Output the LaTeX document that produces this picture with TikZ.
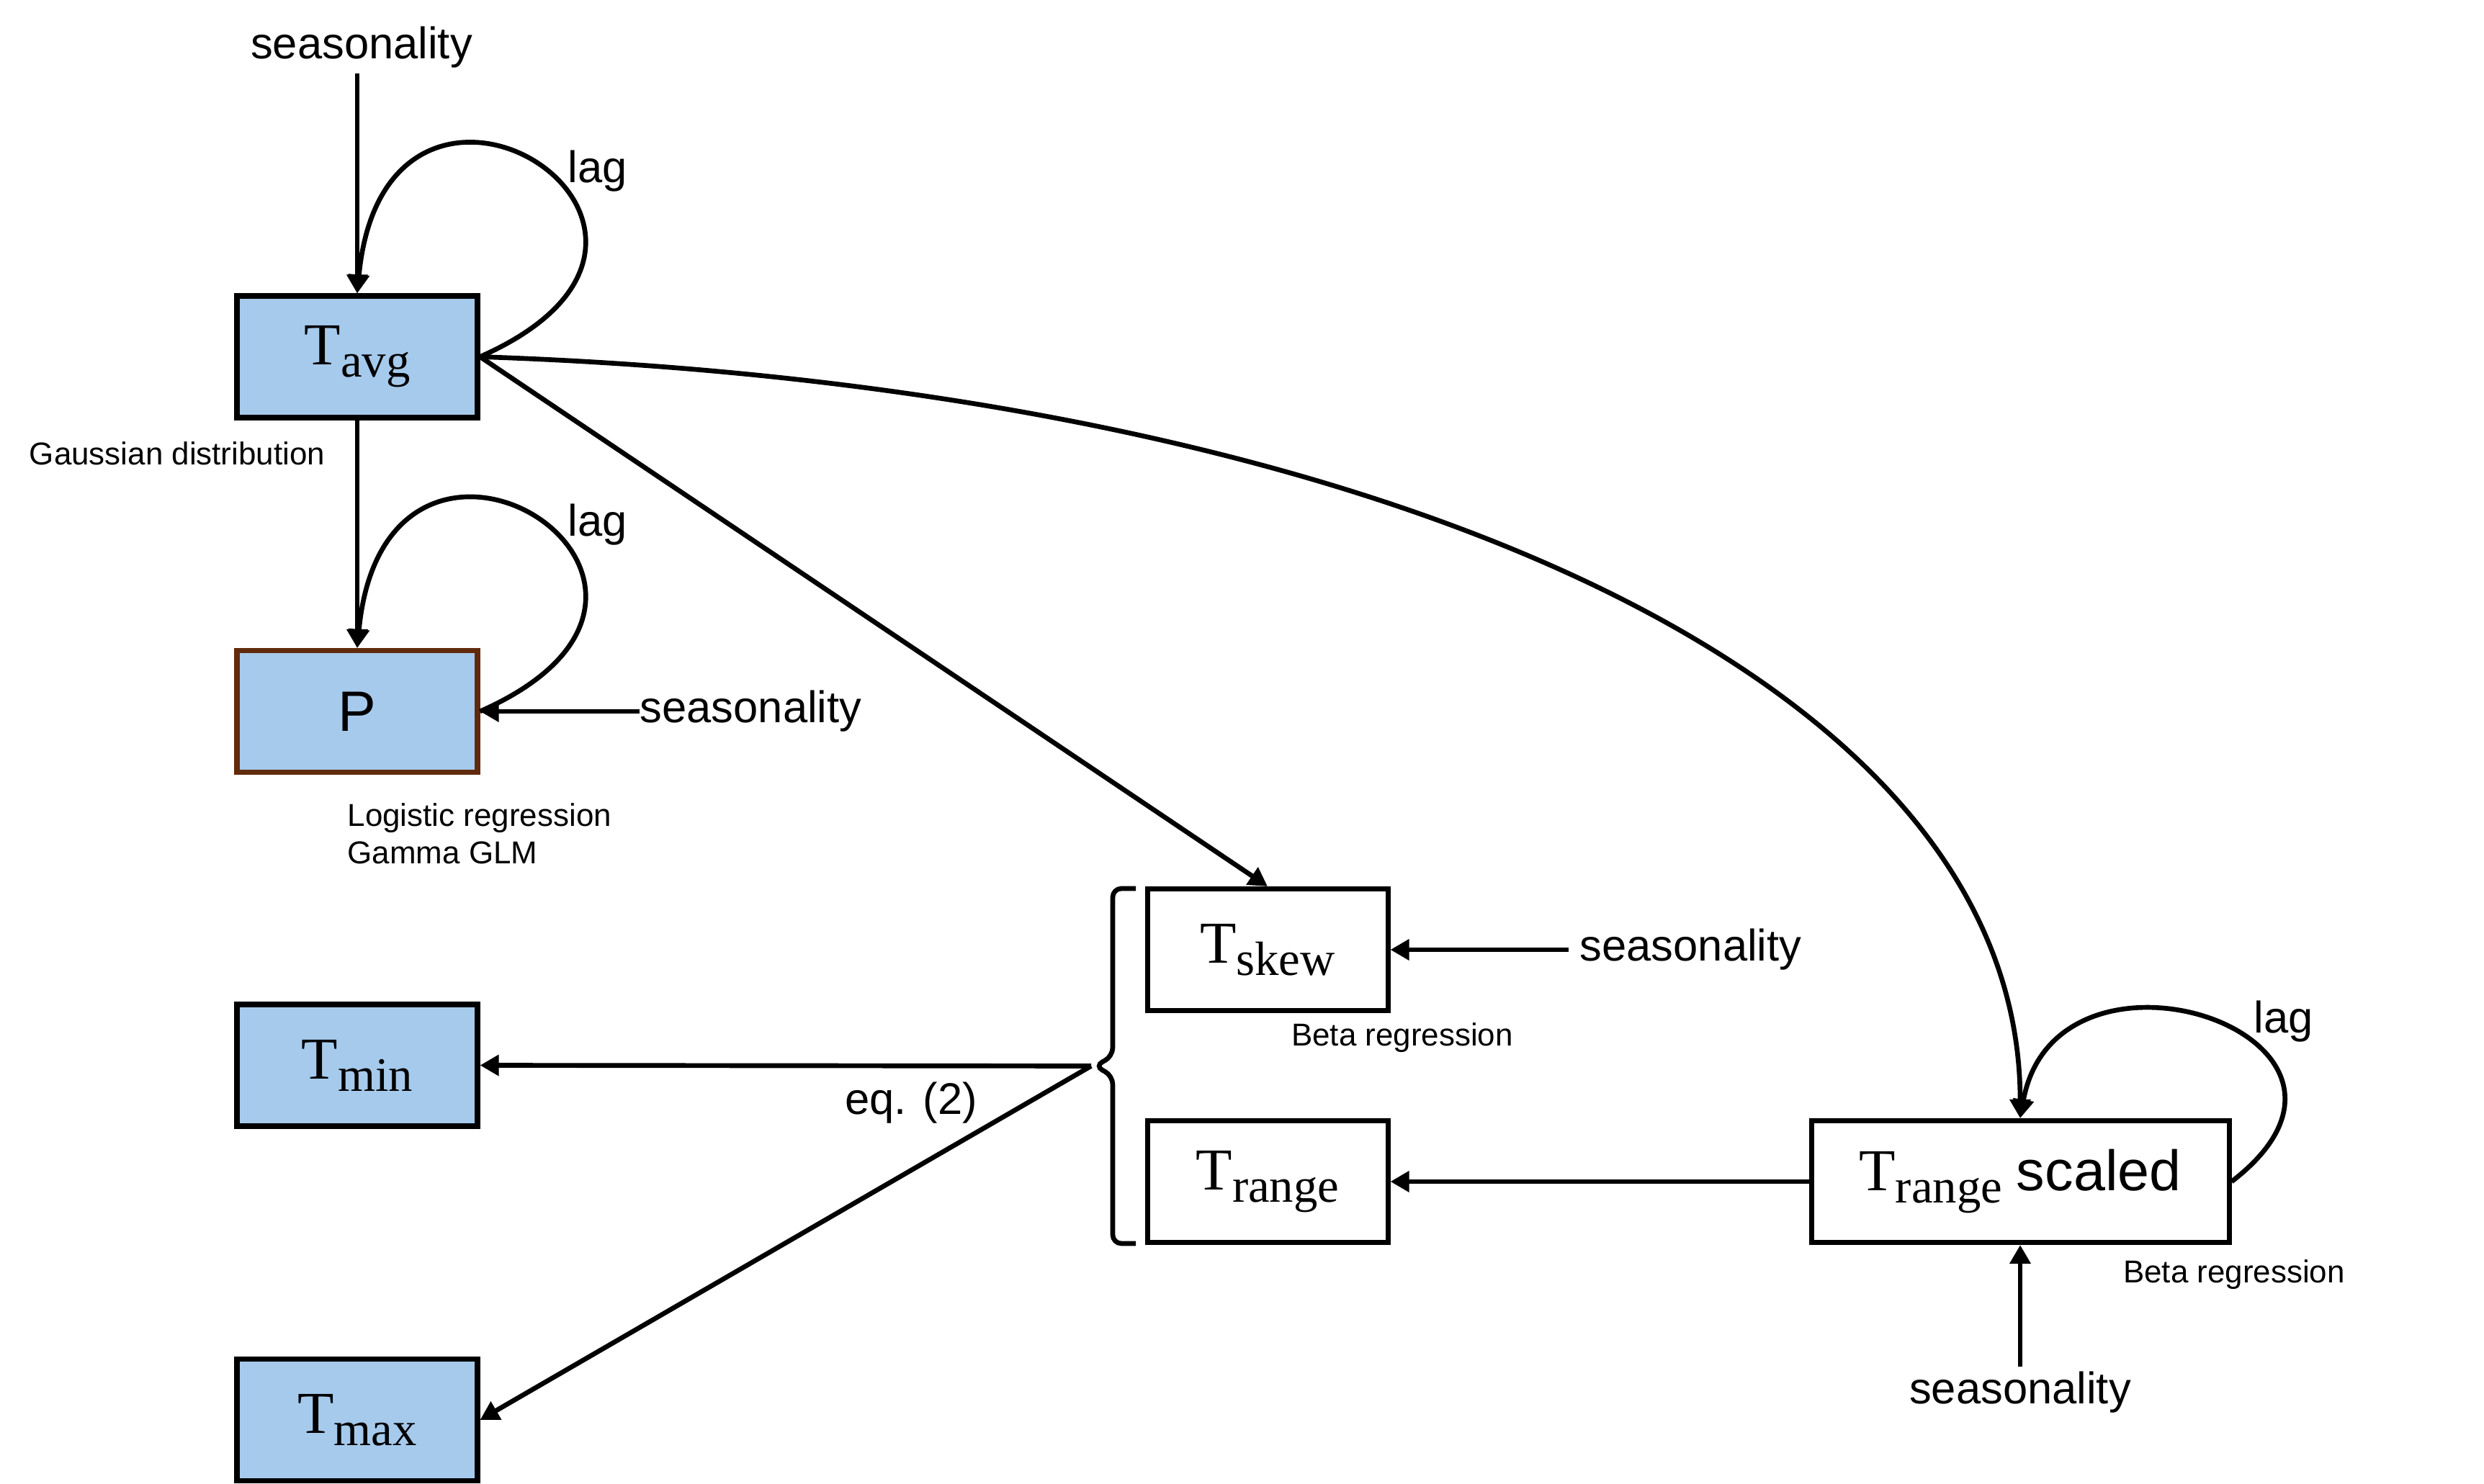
\documentclass[tikz,border=0pt]{standalone}
\usepackage{fontspec}
\setmainfont{Liberation Sans}
\newfontfamily\seriffont{Liberation Serif}
\usetikzlibrary{arrows.meta}

\definecolor{boxblue}{HTML}{A6CAEC}
\definecolor{boxbrown}{HTML}{612A0C}

\newcommand{\tvar}[1]{{\seriffont\fontsize{23.5}{26}\selectfont T\raisebox{-0.17cm}{\fontsize{19}{20}\selectfont #1}}}

\tikzset{
  var/.style={draw, line width=2pt, minimum width=3.34cm, minimum height=1.69cm, inner sep=0pt},
  filled/.style={var, fill=boxblue},
  arr/.style={line width=1.9pt, -{Triangle[length=0.26cm,width=0.28cm]}},
  lbl/.style={font=\fontsize{17.5}{20}\selectfont, inner sep=2pt},
  note/.style={font=\fontsize{12.5}{14.7}\selectfont, inner sep=0pt, align=left}
}

\begin{document}
\begin{tikzpicture}
    \useasboundingbox (0,0) rectangle (34.49,20.6);

    % Draw the boxes
    \node[filled] (tavg) at (4.96,15.645) {\tvar{avg}};
    \node[filled, draw=boxbrown] (p) at (4.96,10.72) {\fontsize{22.5}{26}\selectfont P};
    \node[filled] (tmin) at (4.96,5.805) {\tvar{min}};
    \node[filled] (tmax) at (4.96,0.88) {\tvar{max}};
    \node[var] (tskew) at (17.60,7.41) {\tvar{skew}};
    \node[var] (trange) at (17.60,4.19) {\tvar{range}};
    \node[var, minimum width=5.80cm] (trs) at (28.05,4.19) {\tvar{range}\hspace{0.1cm} {\fontsize{22.5}{26}\selectfont scaled}};

    % labels
    \node[lbl] (seasa) at (5.02,19.94) {seasonality};
    \node[lbl, anchor=west, inner sep=0pt] (seasb) at (8.88,10.72) {seasonality};
    \node[lbl, anchor=west, inner xsep=0.15cm] (seasc) at (21.78,7.41) {seasonality};
    \node[lbl] (seasd) at (28.05,1.26) {seasonality};
    \node[lbl] (laga) at (8.30,18.22) {lag};
    \node[lbl] (lagb) at (8.30,13.31) {lag};
    \node[lbl] (lagc) at (31.71,6.41) {lag};
    \node[lbl] (eqn) at (12.65,5.28) {eq. (2)};
    \node[note] (gauss) at (2.46,14.30) {Gaussian distribution};
    \node[note, anchor=north west] (logit) at (4.82,9.45) {Logistic regression\\Gamma GLM};
    \node[note] (betaa) at (19.47,6.19) {Beta regression};
    \node[note] (betab) at (31.02,2.90) {Beta regression};

    % brace round T_skew and T_range
    \draw[line width=1.9pt, rounded corners=0.12cm] (15.77,8.26) -- (15.45,8.26) -- (15.45,5.93)
        -- (15.2,5.795) -- (15.45,5.66) -- (15.45,3.33) -- (15.77,3.33);
    \coordinate (bt) at (15.15,5.795);

    % arrows
    \draw[arr] (seasa.south -| tavg.north) -- (tavg.north);
    \draw[arr] (tavg.east) .. controls +(3.96,1.75) and +(0.4,4.2) .. (tavg.north);
    \draw[arr] (tavg) -- (p);
    \draw[arr] (p.east) .. controls +(3.96,1.75) and +(0.4,4.2) .. (p.north);
    \draw[arr] (seasb.west) -- (p.east);
    \draw[arr] (tavg.east) -- (tskew.north);
    \draw[arr] (tavg.east) .. controls +(12,-0.4) and +(0,6.3) .. (trs.north);
    \draw[arr] (seasc.west) -- (tskew.east);
    \draw[arr] (trs) -- (trange);
    \draw[arr] (trs.east) .. controls +(2.6,2.0) and +(0.5,2.8) .. (trs.north);
    \draw[arr] (seasd) -- (trs);
    \draw[arr] (bt) -- (tmin.east);
    \draw[arr] (bt) -- (tmax.east);
\end{tikzpicture}
\end{document}
